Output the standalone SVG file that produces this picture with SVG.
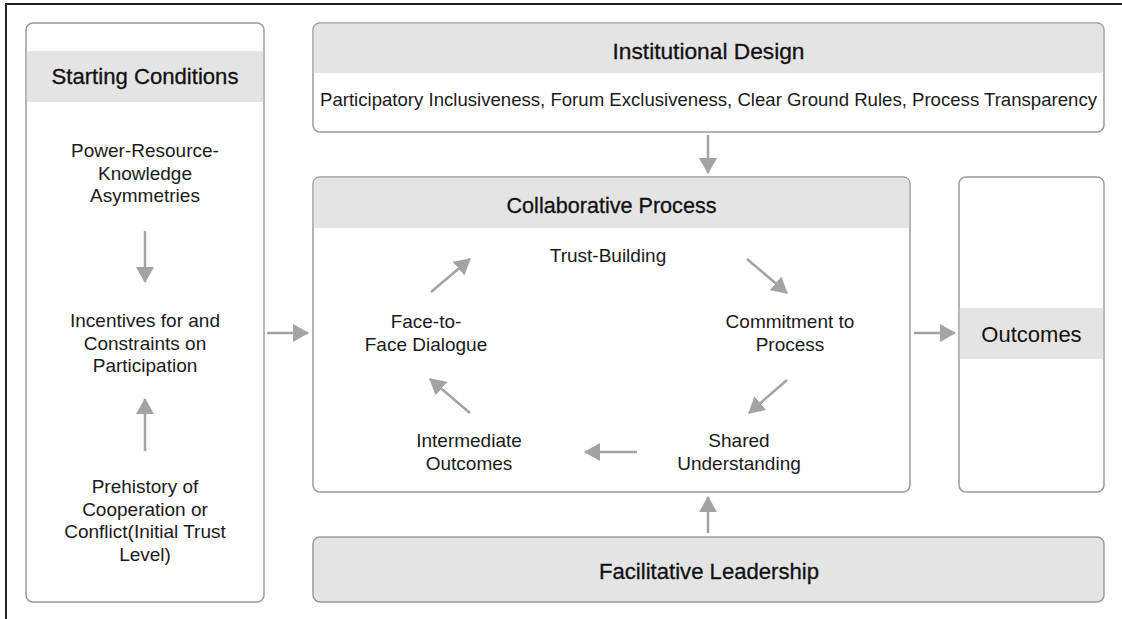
<svg xmlns="http://www.w3.org/2000/svg" width="1122" height="619" viewBox="0 0 1122 619">
  <style>
    .box { fill: #ffffff; stroke: #9a9a9a; stroke-width: 1.5; }
    .band { fill: #e4e4e4; }
    .fill { fill: #e4e4e4; stroke: #9a9a9a; stroke-width: 1.5; }
    .title { font-family: "Liberation Sans", Arial, sans-serif; font-size: 22px; fill: #111; text-anchor: middle; stroke: #111; stroke-width: 0.3; }
    .body { font-family: "Liberation Sans", Arial, sans-serif; font-size: 19px; fill: #1a1a1a; text-anchor: middle; }
    .conn { stroke: #a3a3a3; stroke-width: 2.5; fill: none; marker-end: url(#head); }
  </style>
  <defs>
    <marker id="head" viewBox="0 0 16 18" refX="15" refY="9" markerUnits="userSpaceOnUse" markerWidth="16" markerHeight="18" orient="auto">
      <path d="M0,0 L16,9 L0,18 Z" fill="#a3a3a3"/>
    </marker>
  </defs>

  <rect width="1122" height="619" fill="#ffffff"/>
  <!-- page frame -->
  <path d="M6,619 L6,4 L1122,4" fill="none" stroke="#222" stroke-width="2"/>

  <g id="starting-conditions">
    <rect class="box" x="26" y="23" width="238" height="579" rx="7"/>
    <rect class="band" x="26.8" y="51" width="236.4" height="51"/>
    <text class="title" x="145" y="84" textLength="187" lengthAdjust="spacingAndGlyphs">Starting Conditions</text>
    <text class="body" x="145" y="157">Power-Resource-</text>
    <text class="body" x="145" y="179.5">Knowledge</text>
    <text class="body" x="145" y="202">Asymmetries</text>
    <text class="body" x="145" y="327">Incentives for and</text>
    <text class="body" x="145" y="349.5">Constraints on</text>
    <text class="body" x="145" y="372">Participation</text>
    <text class="body" x="145" y="493">Prehistory of</text>
    <text class="body" x="145" y="515.5">Cooperation or</text>
    <text class="body" x="145" y="538">Conflict(Initial Trust</text>
    <text class="body" x="145" y="560.5">Level)</text>
  </g>

  <g id="institutional-design">
    <rect class="box" x="313" y="23" width="791" height="109" rx="7"/>
    <path class="band" d="M313.8,73 L313.8,30 Q313.8,23.8 320,23.8 L1097,23.8 Q1103.2,23.8 1103.2,30 L1103.2,73 Z"/>
    <text class="title" x="708.5" y="59" textLength="192" lengthAdjust="spacingAndGlyphs">Institutional Design</text>
    <text class="body" x="708.5" y="106" font-size="18.5" textLength="777" lengthAdjust="spacingAndGlyphs">Participatory Inclusiveness, Forum Exclusiveness, Clear Ground Rules, Process Transparency</text>
  </g>

  <g id="collaborative-process">
    <rect class="box" x="313" y="177" width="597" height="315" rx="7"/>
    <path class="band" d="M313.8,228 L313.8,184 Q313.8,177.8 320,177.8 L903,177.8 Q909.2,177.8 909.2,184 L909.2,228 Z"/>
    <text class="title" x="611.5" y="213" textLength="210" lengthAdjust="spacingAndGlyphs">Collaborative Process</text>
  </g>

  <g id="trust-building">
    <text class="body" x="608" y="262">Trust-Building</text>
  </g>
  <g id="commitment">
    <text class="body" x="790" y="328">Commitment to</text>
    <text class="body" x="790" y="350.5">Process</text>
  </g>
  <g id="shared-understanding">
    <text class="body" x="739" y="447">Shared</text>
    <text class="body" x="739" y="469.5">Understanding</text>
  </g>
  <g id="intermediate-outcomes">
    <text class="body" x="469" y="447">Intermediate</text>
    <text class="body" x="469" y="469.5">Outcomes</text>
  </g>
  <g id="face-to-face">
    <text class="body" x="426" y="328">Face-to-</text>
    <text class="body" x="426" y="350.5">Face Dialogue</text>
  </g>

  <g id="outcomes">
    <rect class="box" x="959" y="177" width="145" height="315" rx="7"/>
    <rect class="band" x="959.8" y="308" width="143.4" height="51"/>
    <text x="1031.5" y="342" font-family="Liberation Sans, Arial, sans-serif" font-size="22" fill="#111" text-anchor="middle">Outcomes</text>
  </g>

  <g id="facilitative-leadership">
    <rect class="fill" x="313" y="537" width="791" height="65" rx="7"/>
    <text class="title" x="709" y="579" textLength="220" lengthAdjust="spacingAndGlyphs">Facilitative Leadership</text>
  </g>

  <g id="connectors">
    <line class="conn" x1="145" y1="231" x2="145" y2="282"/>
    <line class="conn" x1="145" y1="451" x2="145" y2="399"/>
    <line class="conn" x1="267" y1="333" x2="308" y2="333"/>
    <line class="conn" x1="708" y1="135" x2="708" y2="173"/>
    <line class="conn" x1="708" y1="533" x2="708" y2="497"/>
    <line class="conn" x1="914" y1="333" x2="955" y2="333"/>
    <line class="conn" x1="431" y1="292" x2="470" y2="259"/>
    <line class="conn" x1="747" y1="259" x2="787" y2="293"/>
    <line class="conn" x1="787" y1="380" x2="749" y2="413"/>
    <line class="conn" x1="637" y1="452" x2="585" y2="452"/>
    <line class="conn" x1="470" y1="413" x2="430" y2="379"/>
  </g>
</svg>
